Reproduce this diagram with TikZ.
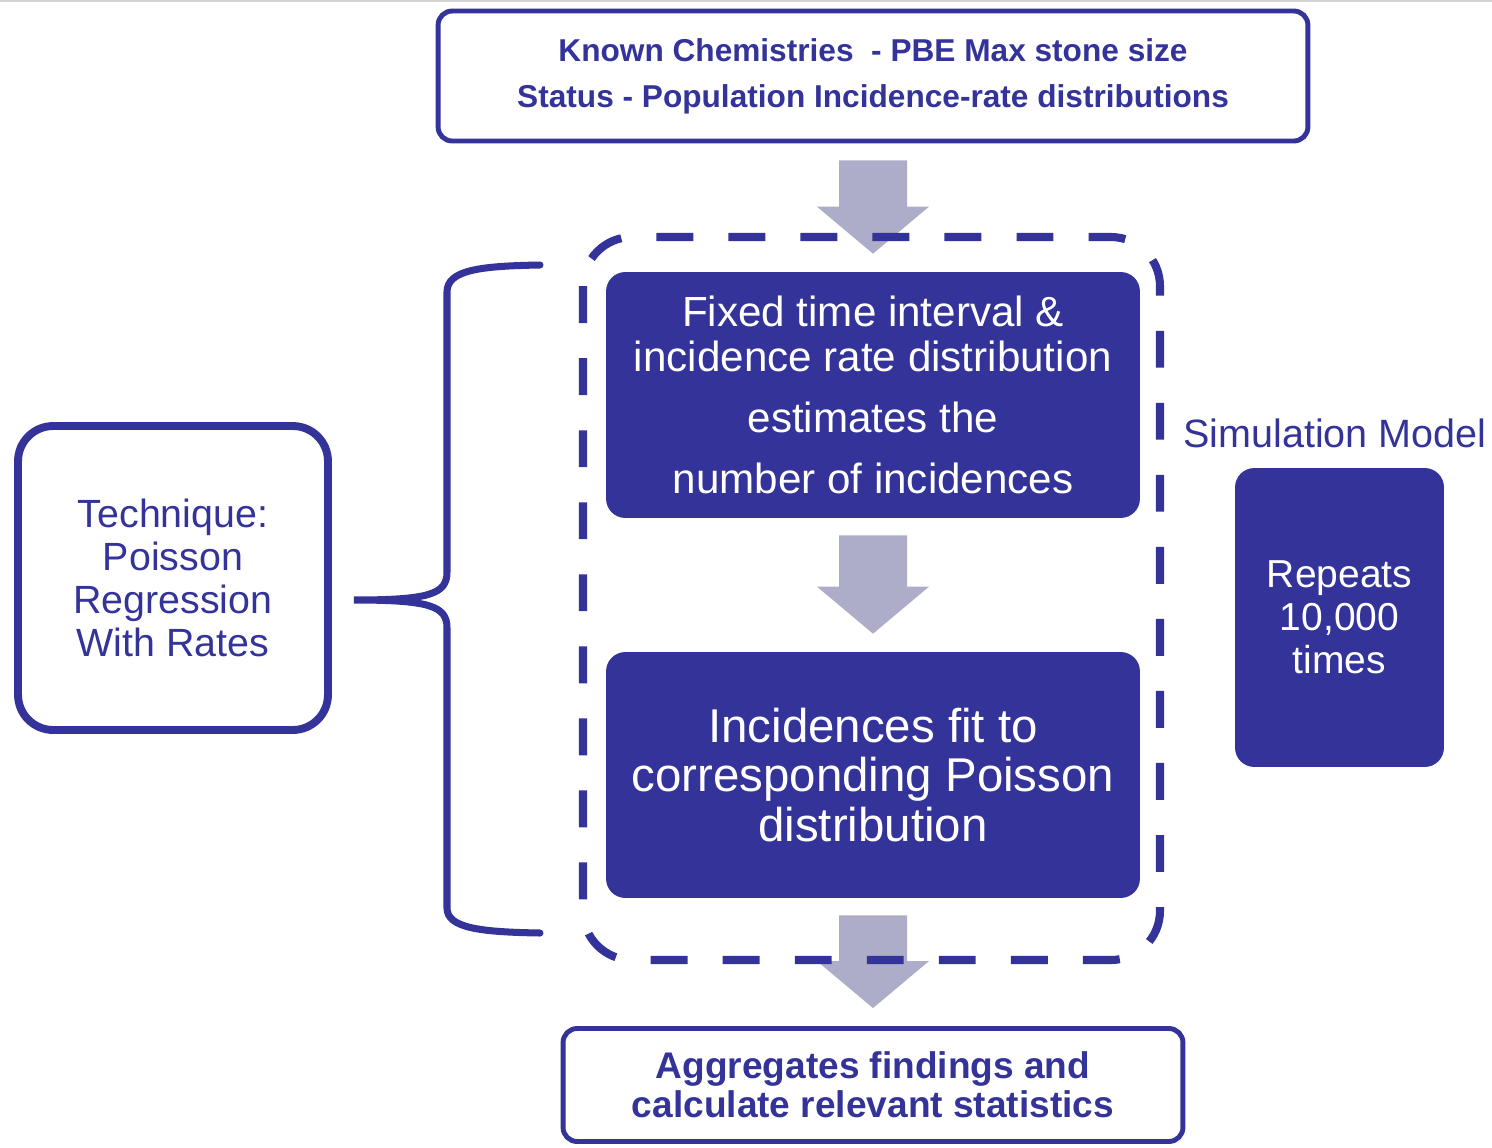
\documentclass[tikz,border=0pt]{standalone}
\usepackage{fontspec}
\setmainfont{Liberation Sans}
\usepackage{tikz}
\usetikzlibrary{calc,positioning}
\definecolor{simblue}{RGB}{51,51,153}
\definecolor{arrowgrey}{RGB}{173,173,201}
\definecolor{edgegrey}{RGB}{210,210,210}
\tikzset{
  outlinebox/.style={draw=simblue,line width=2.8pt,rounded corners=8pt,fill=white,
    align=center,text=simblue,inner sep=0pt},
  stepfill/.style={fill=simblue,rounded corners=11pt,align=center,text=white,
    inner sep=0pt},
  techbox/.style={draw=simblue,line width=4.5pt,rounded corners=20pt,
    align=center,text=simblue,inner sep=0pt},
  loopline/.style={draw=simblue,line width=4.6pt,dash pattern=on 21pt off 20pt,
    rounded corners=28pt},
  bracket/.style={draw=simblue,line width=4pt,line cap=round},
  blockarrow/.style={fill=arrowgrey},
  simlabel/.style={text=simblue,font=\fontsize{22.5}{24}\selectfont}
}

\begin{document}
\begin{tikzpicture}[x=0.02cm,y=-0.02cm]
  \useasboundingbox (0,0) rectangle (1492,1147);
  \draw[edgegrey,line width=1pt] (0,1) -- (1492,1);
  \node[outlinebox,minimum width=17.4cm,minimum height=2.6cm,
    font=\fontsize{18}{26}\selectfont\bfseries] (known) at (873,76)
    {Known Chemistries~ - PBE Max stone size\\Status - Population Incidence-rate distributions};
  \node[stepfill,minimum width=10.68cm,minimum height=4.92cm,
    font=\fontsize{24}{25.5}\selectfont] (fixed) at (873,395)
    {Fixed time interval \&\\incidence rate distribution\\[9pt]estimates the\\[9.5pt]number of incidences};
  \node[stepfill,minimum width=10.68cm,minimum height=4.92cm,
    font=\fontsize{27}{28.4}\selectfont] (fitbox) at (873,775)
    {Incidences fit to\\corresponding Poisson\\distribution};
  \node[outlinebox,minimum width=12.4cm,minimum height=2.26cm,
    font=\fontsize{21.1}{22.1}\selectfont\bfseries] (aggr) at (873,1085)
    {Aggregates findings and\\calculate relevant statistics};
  \node[techbox,minimum width=6.2cm,minimum height=6.08cm,
    font=\fontsize{22.4}{24.4}\selectfont] (technique) at (173,578)
    {Technique:\\Poisson\\Regression\\With Rates};
  \node[stepfill,minimum width=4.18cm,minimum height=5.98cm,
    font=\fontsize{22.2}{24.4}\selectfont] (repeats) at (1339.5,617.5)
    {Repeats\\10,000\\times};
  \node[simlabel] (simtitle) at (1335,433) {Simulation Model};
  \foreach \a/\b in {known/fixed,fixed/fitbox,fitbox/aggr}
    \fill[blockarrow] ($(\a.south)+(-34,17)$) -- ($(\a.south)+(34,17)$)
      -- ($(\b.north)+(34,-65)$) -- ($(\b.north)+(56,-65)$)
      -- ($(\b.north)+(0,-18)$) -- ($(\b.north)+(-56,-65)$)
      -- ($(\b.north)+(-34,-65)$) -- cycle;
  \draw[loopline] (583,237) rectangle (1160,960);
  \coordinate (bracetip) at ($(technique.east)+(22,22)$);
  \draw[bracket] (540,265) .. controls (480,266) and (447,270) .. (447,292)
    -- (447,572) .. controls (447,594) and (430,600) .. (bracetip)
    .. controls (430,600) and (447,606) .. (447,628)
    -- (447,908) .. controls (447,928) and (480,932) .. (540,933);
\end{tikzpicture}
\end{document}
